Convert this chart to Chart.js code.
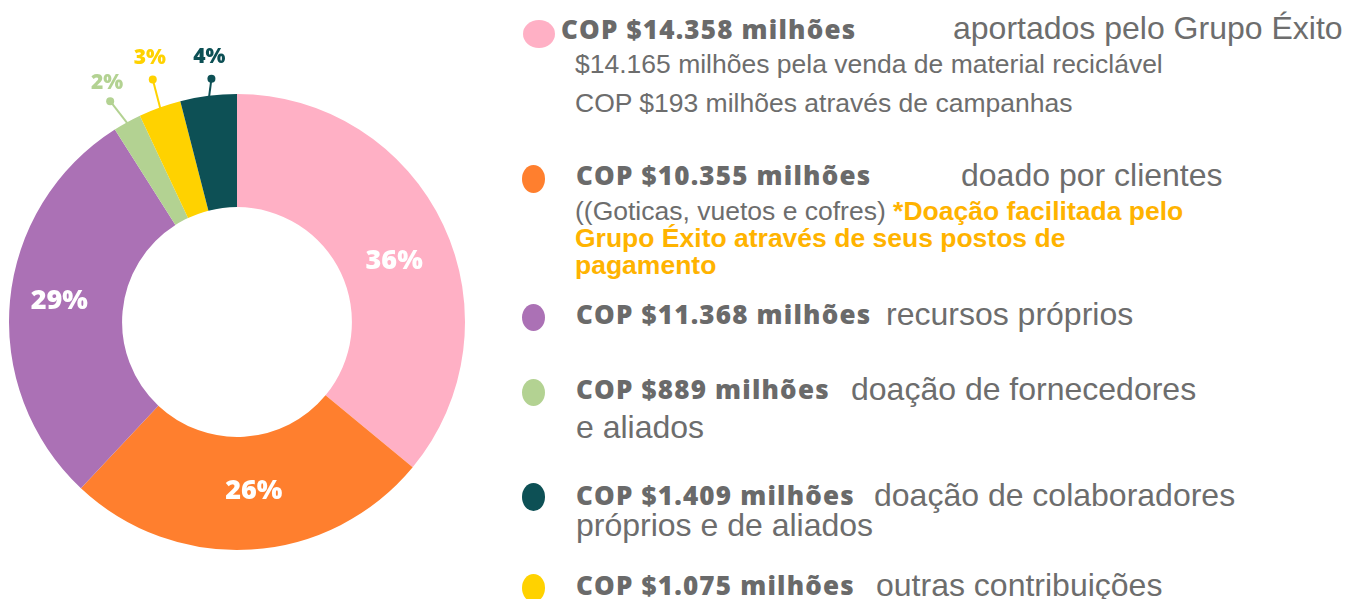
<!DOCTYPE html>
<html lang="pt">
<head>
<meta charset="utf-8">
<script src="https://cdn.jsdelivr.net/npm/chart.js@4/dist/chart.umd.min.js"></script>
<style>
  html, body { margin: 0; padding: 0; background: #fff; }
  body { width: 1345px; height: 599px; position: relative; overflow: hidden; font-family: "Liberation Sans", Arial, sans-serif; color: #6d6d6d; }
  #chartBox { position: absolute; left: 0; top: 0; width: 480px; height: 599px; }
  .abs { position: absolute; white-space: nowrap; }
  .dot { position: absolute; border-radius: 50%; }
  .amt { font-family: "Open Sans", sans-serif; font-weight: 800; font-size: 26px; line-height: 30px; letter-spacing: 1.2px; color: #6a6a6a; }
  .desc { font-size: 32px; line-height: 34px; }
  .sub { font-size: 26.5px; line-height: 27px; }
  .hl { color: #ffb300; font-weight: bold; }
</style>
</head>
<body>
<div id="chartBox"><canvas id="donut"></canvas></div>
<div id="legend"></div>

<script>
// ring shares (%), clockwise from 12 o'clock
const categories = ['aportados pelo Grupo Éxito', 'doado por clientes', 'recursos próprios',
                    'doação de fornecedores e aliados', 'outras contribuições',
                    'doação de colaboradores próprios e de aliados'];
const shares = [36, 26, 29, 2, 3, 4];
// amounts in COP milhões, same order
const amounts = [14358, 10355, 11368, 889, 1075, 1409];
const colors = ['#ffb0c5', '#ff7f2e', '#ab71b5', '#b3d292', '#ffd200', '#0d5055'];

function fmtAmount(v) {
    return 'COP $' + v.toLocaleString('de-DE') + ' milhões';
}

// legend rows, built by hand (order differs from the ring)
const legend = document.getElementById('legend');
legend.innerHTML = `
  <div class="dot" style="left:523px;top:20px;width:32px;height:28px;background:${colors[0]}"></div>
  <div class="abs amt" style="left:561px;top:14px">${fmtAmount(amounts[0])}</div>
  <div class="abs desc" style="left:953px;top:11px">${categories[0]}</div>
  <div class="abs sub" style="left:575px;top:51px">$14.165 milhões pela venda de material reciclável</div>
  <div class="abs sub" style="left:575px;top:90px">COP $193 milhões através de campanhas</div>

  <div class="dot" style="left:522px;top:165px;width:23px;height:28px;background:${colors[1]}"></div>
  <div class="abs amt" style="left:576px;top:160px">${fmtAmount(amounts[1])}</div>
  <div class="abs desc" style="left:961px;top:158px">${categories[1]}</div>
  <div class="abs sub" style="left:575px;top:198px">((Goticas, vuetos e cofres) <span class="hl">*Doação facilitada pelo<br>Grupo Éxito através de seus postos de<br>pagamento</span></div>

  <div class="dot" style="left:522px;top:304px;width:23px;height:27px;background:${colors[2]}"></div>
  <div class="abs amt" style="left:576px;top:299px">${fmtAmount(amounts[2])}</div>
  <div class="abs desc" style="left:886px;top:297px">${categories[2]}</div>

  <div class="dot" style="left:522px;top:379px;width:23px;height:27px;background:${colors[3]}"></div>
  <div class="abs amt" style="left:576px;top:374px">${fmtAmount(amounts[3])}</div>
  <div class="abs desc" style="left:851px;top:372px">doação de fornecedores</div>
  <div class="abs desc" style="left:576px;top:410px">e aliados</div>

  <div class="dot" style="left:522px;top:483px;width:23px;height:28px;background:${colors[5]}"></div>
  <div class="abs amt" style="left:576px;top:480px">${fmtAmount(amounts[5])}</div>
  <div class="abs desc" style="left:874px;top:478px">doação de colaboradores</div>
  <div class="abs desc" style="left:576px;top:508px">próprios e de aliados</div>

  <div class="dot" style="left:522px;top:574px;width:23px;height:28px;background:${colors[4]}"></div>
  <div class="abs amt" style="left:576px;top:570px">${fmtAmount(amounts[4])}</div>
  <div class="abs desc" style="left:876px;top:568px">${categories[4]}</div>
`;

// inside labels: small nudges from the arc centroid
const nudges = { 0: [2, 10], 1: [6, -4], 2: [-7, -7] };
// callouts for the thin slices: dot offset from the outer edge, label offset from the dot
const callouts = {
    3: { dx: -17, dy: -21, lx: -3, ly: -18 },
    4: { dx: -7, dy: -28, lx: -3, ly: -21 },
    5: { dx: 3, dy: -17, lx: -2, ly: -22 }
};

const pctLabels = {
    id: 'pctLabels',
    afterDatasetsDraw(chart) {
        const ctx = chart.ctx;
        const meta = chart.getDatasetMeta(0);
        ctx.save();
        ctx.textAlign = 'center';
        ctx.textBaseline = 'middle';
        meta.data.forEach((arc, i) => {
            const txt = shares[i] + '%';
            const c = callouts[i];
            if (!c) {
                const p = arc.tooltipPosition();
                const n = nudges[i] || [0, 0];
                ctx.fillStyle = '#fff';
                ctx.font = '800 27px "Open Sans"';
                ctx.fillText(txt, p.x + n[0], p.y + n[1] + 2);
                return;
            }
            const mid = (arc.startAngle + arc.endAngle) / 2;
            const ox = arc.x + Math.cos(mid) * arc.outerRadius;
            const oy = arc.y + Math.sin(mid) * arc.outerRadius;
            const sx = arc.x + Math.cos(mid) * (arc.outerRadius - 3);
            const sy = arc.y + Math.sin(mid) * (arc.outerRadius - 3);
            const dx = ox + c.dx, dy = oy + c.dy;
            ctx.strokeStyle = colors[i];
            ctx.lineWidth = 2;
            ctx.beginPath();
            ctx.moveTo(sx, sy);
            ctx.lineTo(dx, dy);
            ctx.stroke();
            ctx.fillStyle = colors[i];
            ctx.beginPath();
            ctx.arc(dx, dy, 4, 0, Math.PI * 2);
            ctx.fill();
            ctx.font = '800 21px "Open Sans"';
            ctx.fillText(txt, dx + c.lx, dy + c.ly);
        });
        ctx.restore();
    }
};

new Chart(document.getElementById('donut'), {
    type: 'doughnut',
    data: {
        labels: categories,
        datasets: [{
            data: shares,
            backgroundColor: colors,
            borderWidth: 0,
            hoverOffset: 0
        }]
    },
    options: {
        responsive: true, maintainAspectRatio: false,
        animation: false,
        cutout: '50.4%',
        layout: { padding: { left: 9, top: 94, right: 15, bottom: 49 } },
        plugins: { legend: { display: false }, tooltip: { enabled: false } }
    },
    plugins: [pctLabels]
});
</script>
</body>
</html>
